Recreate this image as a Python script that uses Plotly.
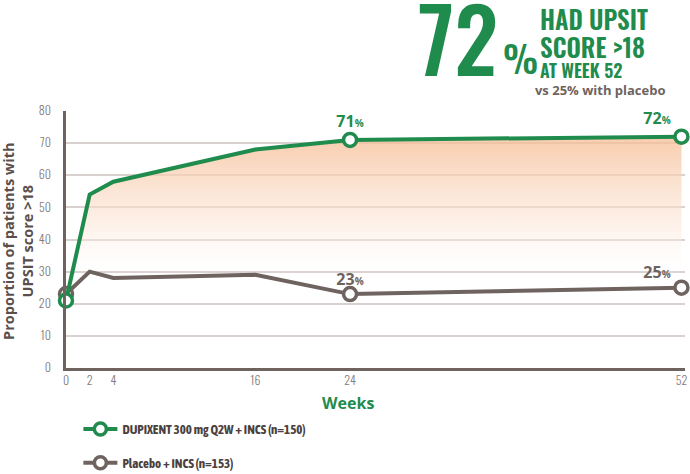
import plotly.graph_objects as go

# ---- data ----
weeks = [0, 2, 4, 16, 24, 52]
dupixent = [21, 54, 58, 68, 71, 72]
placebo = [23, 30, 28, 29, 23, 25]
marker_weeks = [0, 24, 52]
label_weeks = [24, 52]
x_ticks = [0, 2, 4, 16, 24, 52]
y_ticks = [0, 10, 20, 30, 40, 50, 60, 70, 80]
series_names = ["DUPIXENT 300 mg Q2W + INCS (n=150)", "Placebo + INCS (n=153)"]

GREEN = "#1F8B4D"
GRAY = "#6F6360"
GRID = "#D8D1CF"
COND = "Oswald, Barlow Condensed, Roboto Condensed, Archivo Narrow, sans-serif"
TEXTFONT = "Source Sans 3, Source Sans Pro, Lato, sans-serif"
LEGFONT = "Asap Condensed, Fira Sans Condensed, Archivo Narrow, sans-serif"

fig = go.Figure()

fig.add_trace(go.Scatter(
    x=weeks, y=dupixent, mode="lines", line=dict(width=0),
    fill="tozeroy",
    fillgradient=dict(type="vertical",
                      colorscale=[[0, "rgba(255,255,255,0)"], [0.35, "rgba(252,232,218,0.55)"],
                                  [1, "rgba(246,190,150,0.78)"]],
                      start=28, stop=72),
    showlegend=False, hoverinfo="skip"))

def add_series(yvals, color, name, rank):
    fig.add_trace(go.Scatter(x=weeks, y=yvals, mode="lines",
                             line=dict(color=color, width=4),
                             showlegend=False, cliponaxis=False, hoverinfo="skip"))
    mx = [w for w in weeks if w in marker_weeks]
    my = [v for w, v in zip(weeks, yvals) if w in marker_weeks]
    fig.add_trace(go.Scatter(x=mx, y=my, mode="markers",
                             marker=dict(size=13, color="white",
                                         line=dict(color=color, width=3.5)),
                             showlegend=False, cliponaxis=False))
    fig.add_trace(go.Scatter(x=[None], y=[None], mode="lines+markers", name=name,
                             legendgroup=name, legendrank=rank,
                             line=dict(color=color, width=4),
                             marker=dict(size=12, color="white",
                                         line=dict(color=color, width=3.5))))

add_series(placebo, GRAY, series_names[1], 2)
add_series(dupixent, GREEN, series_names[0], 1)

for yvals, color, shift in [(dupixent, GREEN, 18), (placebo, GRAY, 15)]:
    for w, v in zip(weeks, yvals):
        if w in label_weeks:
            last = w == weeks[-1]
            fig.add_annotation(
                x=w, y=v, xref="x", yref="y",
                text=f"<b>{v}</b><b><span style='font-size:10px'>%</span></b>",
                showarrow=False, font=dict(family=TEXTFONT, size=16, color=color),
                xanchor="right" if last else "center",
                xshift=-9 if last else 0, yshift=shift)

def head(text, x, y, size, anchor="left", color=GREEN, family=COND, weight=600, xshift=0):
    fig.add_annotation(xref="paper", yref="paper", x=x, y=y, xanchor=anchor, yanchor="middle",
                       text=text, showarrow=False, xshift=xshift,
                       font=dict(family=family, size=size, color=color, weight=weight))

head("72", 0.701, 1.292, 88, anchor="right", weight=500)
head("%", 0.702, 1.210, 37, weight=500)
head("HAD UPSIT", 0.7625, 1.360, 25)
head("SCORE &gt;18", 0.7625, 1.250, 25)
head("AT WEEK 52", 0.7625, 1.160, 18)
head("vs 25% with placebo", 0.7625, 1.078, 13, color=GRAY, family=TEXTFONT, weight=700, xshift=3)

fig.add_annotation(xref="paper", yref="paper", x=0.455, y=-0.14, xanchor="center", yanchor="middle",
                   text="<b>Weeks</b>", showarrow=False,
                   font=dict(family=TEXTFONT, size=16, color=GREEN))

fig.add_annotation(xref="paper", yref="paper", x=0, y=0.494, xanchor="center", yanchor="middle",
                   xshift=-48, textangle=-90,
                   text="<b>Proportion of patients with<br>UPSIT score &gt;18</b>", showarrow=False,
                   font=dict(family=TEXTFONT, size=14.5, color="#5A4F4C"))

fig.update_layout(
    width=690, height=474,
    margin=dict(l=66, r=5, t=111, b=106, autoexpand=False),
    paper_bgcolor="white", plot_bgcolor="white",
    xaxis=dict(range=[0, 52.3], tickvals=x_ticks, ticktext=[str(t) for t in x_ticks],
               showgrid=False, zeroline=False, showline=True, linecolor=GRAY, linewidth=2.5,
               ticks="", automargin=False,
               tickfont=dict(family=COND, size=12, color="#857B78", weight=300)),
    yaxis=dict(range=[0, 80], tickvals=y_ticks, showgrid=True, gridcolor=GRID, gridwidth=1.5,
               zeroline=False, showline=True, linecolor=GRAY, linewidth=2.5,
               ticks="", ticklabelstandoff=10, automargin=False,
               tickfont=dict(family=COND, size=12, color="#857B78", weight=300)),
    legend=dict(x=0.02, y=-0.179, xanchor="left", yanchor="top", orientation="v",
                tracegroupgap=14, itemwidth=34, traceorder="grouped",
                font=dict(family=LEGFONT, size=13, color="#4A403E", weight=700)),
)

fig.write_html("out.html", config={"displayModeBar": False},
               post_script="document.body.style.margin='0'")
